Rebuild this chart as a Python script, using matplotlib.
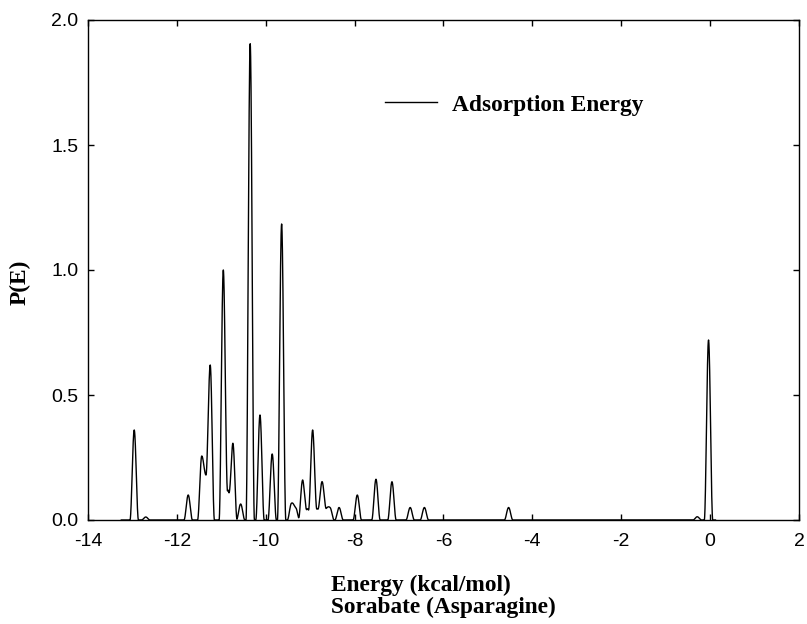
import numpy as np
import matplotlib
matplotlib.use('Agg')
import matplotlib.pyplot as plt

# ---- data (peak centre energy, peak height) ----
peak_energy = [-12.96, -12.70, -11.745, -11.44, -11.345, -11.25, -10.955, -10.85,
               -10.74, -10.565, -10.35, -10.13, -9.855, -9.643, -9.42, -9.33,
               -9.17, -9.06, -8.945, -8.84, -8.735, -8.645, -8.556, -8.35,
               -7.94, -7.52, -7.16, -6.75, -6.43, -4.535, -0.29, -0.036]
peak_height = [0.36, 0.012, 0.10, 0.256, 0.18, 0.62, 1.00, 0.12,
               0.307, 0.064, 1.905, 0.42, 0.264, 1.184, 0.067, 0.05,
               0.16, 0.045, 0.36, 0.045, 0.153, 0.045, 0.05, 0.05,
               0.10, 0.163, 0.153, 0.05, 0.05, 0.05, 0.013, 0.72]
x_ticks = [-14, -12, -10, -8, -6, -4, -2, 0, 2]
y_ticks = [0.0, 0.5, 1.0, 1.5, 2.0]
series_label = "Adsorption Energy"
x_label = "Energy (kcal/mol)\nSorabate (Asparagine)"
y_label = "P(E)"

# smooth curve built from the peaks (raised-cosine shape)
half_width = 0.095
E = np.linspace(-13.25, 0.12, 8000)
P = np.zeros_like(E)
for c, h in zip(peak_energy, peak_height):
    d = np.abs(E - c)
    P += np.where(d < half_width, h * 0.5 * (1 + np.cos(np.pi * d / half_width)), 0.0)

fig = plt.figure(figsize=(8.07, 6.24), dpi=100)
ax = fig.add_axes([88 / 807, 104 / 624, 711 / 807, 500 / 624])

ax.plot(E, P, color='black', linewidth=1.0, label=series_label)

ax.set_xlim(-14, 2)
ax.set_ylim(0, 2)
ax.set_xticks(x_ticks)
ax.set_yticks(y_ticks)
ax.set_xticklabels([str(t) for t in x_ticks])
ax.set_yticklabels([f"{t:.1f}" for t in y_ticks])

for s in ax.spines.values():
    s.set_linewidth(1.0)
ax.tick_params(direction='in', length=4.5, width=1.0, top=True, right=True,
               labelsize=14)
ax.tick_params(axis='y', pad=7)
ax.tick_params(axis='x', pad=9)
for lab in ax.get_xticklabels() + ax.get_yticklabels():
    lab.set_family('Liberation Sans')

ax.set_xlabel(x_label, family='Liberation Serif', fontweight='bold',
              fontsize=16.8, multialignment='left', linespacing=1.05, labelpad=18)
ax.set_ylabel(y_label, family='Liberation Serif', fontweight='bold',
              fontsize=16.8)
ax.yaxis.set_label_coords(-0.080, 0.475)

ax.legend(loc='center left', bbox_to_anchor=(0.4177, 0.830), frameon=False,
          borderpad=0, borderaxespad=0, handlelength=2.22, handletextpad=0.64,
          prop={'family': 'Liberation Serif', 'weight': 'bold', 'size': 16.8})

fig.savefig('out.png', dpi=100)
